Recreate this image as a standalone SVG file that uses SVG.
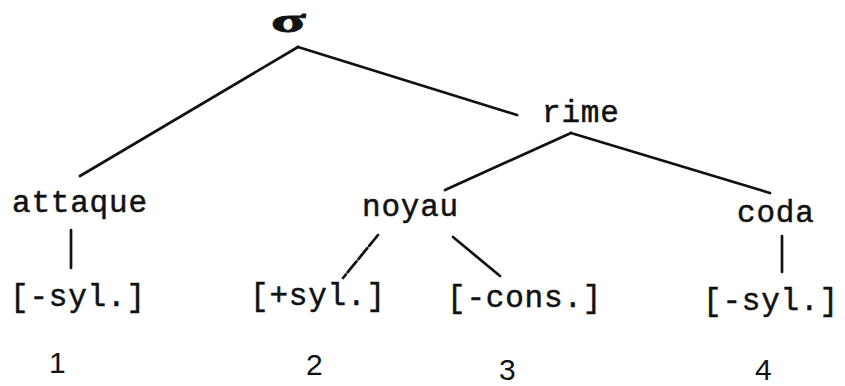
<svg xmlns="http://www.w3.org/2000/svg" width="845" height="386" viewBox="0 0 845 386">
<style>
.t{font-family:"Liberation Mono","Courier New",monospace;font-size:31px;letter-spacing:0.8px;fill:#111;stroke:#111;stroke-width:0.5px}
.n{font-family:"Liberation Sans Narrow","Liberation Sans",Arial,sans-serif;font-size:30px;fill:#111}
.s{font-family:"Liberation Serif","DejaVu Serif",serif;font-size:32px;font-weight:bold;fill:#111;stroke:#111;stroke-width:0.8px}
.c line{stroke:#111;stroke-width:2.7;stroke-linecap:round}
</style>
<rect width="845" height="386" fill="#fff"/>
<g class="c" id="connectors">
<line x1="298" y1="47" x2="80" y2="176"/>
<line x1="298" y1="47" x2="517" y2="115"/>
<line x1="571" y1="133" x2="445" y2="190"/>
<line x1="571" y1="133" x2="770" y2="193"/>
<line x1="71" y1="230" x2="71" y2="268"/>
<line x1="378" y1="235" x2="343" y2="278" stroke-dasharray="14 3"/>
<line x1="453" y1="237" x2="500" y2="276"/>
<line x1="782" y1="236" x2="782" y2="272"/>
</g>
<g id="sigma"><text class="s" x="0" y="0" transform="translate(271,32) scale(2,1.05)">σ</text></g>
<g id="rime"><text class="t" x="542" y="122">rime</text></g>
<g id="attaque"><text class="t" x="12" y="212">attaque</text></g>
<g id="noyau"><text class="t" x="362" y="216">noyau</text></g>
<g id="coda"><text class="t" x="737" y="222">coda</text></g>
<g id="seg1"><text class="t" x="10" y="306">[-syl.]</text></g>
<g id="seg2"><text class="t" x="250" y="305">[+syl.]</text></g>
<g id="seg3"><text class="t" x="447" y="307">[-cons.]</text></g>
<g id="seg4"><text class="t" x="703" y="310">[-syl.]</text></g>
<g id="num1"><text class="n" x="49" y="373">1</text></g>
<g id="num2"><text class="n" x="306" y="375">2</text></g>
<g id="num3"><text class="n" x="499" y="380">3</text></g>
<g id="num4"><text class="n" x="755" y="380">4</text></g>
</svg>
